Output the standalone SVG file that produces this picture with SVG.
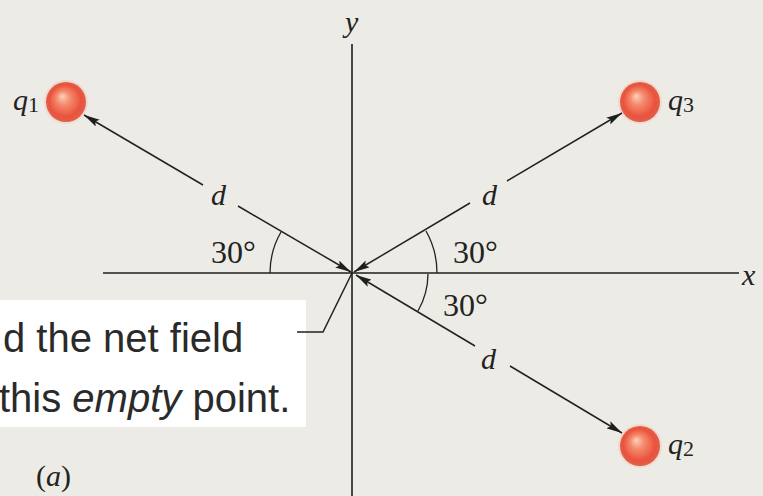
<svg xmlns="http://www.w3.org/2000/svg" width="763" height="496" viewBox="0 0 763 496">
<style>
.ax{stroke:#1e1e1e;stroke-width:1.6;fill:none}
.ln{stroke:#222;stroke-width:1.5;fill:none}
.arc{stroke:#222;stroke-width:1.3;fill:none}
.ser{font-family:"Liberation Serif","DejaVu Serif",serif;fill:#222}
.it{font-style:italic}
.call{font-family:"Liberation Sans",Arial,sans-serif;font-size:40px;fill:#2a2a2a}
</style>
<defs>
<marker id="ah" viewBox="0 0 16 8" refX="16" refY="4" markerWidth="16" markerHeight="8" markerUnits="userSpaceOnUse" orient="auto-start-reverse">
<path d="M0,0 L16,4 L0,8 L3,4 Z" fill="#1e1e1e"/>
</marker>
<radialGradient id="sph" cx="0.5" cy="0.5" r="0.5" fx="0.4" fy="0.35">
<stop offset="0" stop-color="#fbd2bd"/>
<stop offset="0.35" stop-color="#f58a6c"/>
<stop offset="0.8" stop-color="#e9523d"/>
<stop offset="1" stop-color="#e0604a"/>
</radialGradient>
</defs>
<rect width="763" height="496" fill="#ecebe5"/>

<g id="callout">
<rect x="0" y="300" width="306" height="127" fill="#ffffff"/>
<text class="call" x="3" y="352">d the net field</text>
<text class="call" x="-1" y="412">this <tspan font-style="italic">empty</tspan> point.</text>
</g>

<g id="axes">
<line class="ax" x1="103" y1="273" x2="739" y2="273"/>
<line class="ax" x1="352" y1="44" x2="352" y2="496"/>
<text class="ser it" x="742" y="285" font-size="30">x</text>
<text class="ser it" x="345" y="32" font-size="30">y</text>
</g>

<g id="q1">
<circle cx="66" cy="102" r="22" fill="#f6c9b8" opacity="0.5"/>
<circle cx="66" cy="102" r="20" fill="url(#sph)"/>
<text class="ser it" x="13" y="110" font-size="30">q<tspan font-style="normal" font-size="22" dy="2">1</tspan></text>
</g>
<g id="q3">
<circle cx="640" cy="102" r="22" fill="#f6c9b8" opacity="0.5"/>
<circle cx="640" cy="102" r="20" fill="url(#sph)"/>
<text class="ser it" x="668" y="110" font-size="30">q<tspan font-style="normal" font-size="22" dy="2">3</tspan></text>
</g>
<g id="q2">
<circle cx="640" cy="446" r="22" fill="#f6c9b8" opacity="0.5"/>
<circle cx="640" cy="446" r="20" fill="url(#sph)"/>
<text class="ser it" x="668" y="454" font-size="30">q<tspan font-style="normal" font-size="22" dy="2">2</tspan></text>
</g>

<g id="connectors">
<line class="ln" x1="351" y1="272" x2="238" y2="206" marker-start="url(#ah)"/>
<line class="ln" x1="203" y1="185" x2="84" y2="115" marker-end="url(#ah)"/>
<line class="ln" x1="354" y1="272" x2="470" y2="203" marker-start="url(#ah)"/>
<line class="ln" x1="507" y1="181" x2="622" y2="113" marker-end="url(#ah)"/>
<line class="ln" x1="356" y1="275" x2="475" y2="346" marker-start="url(#ah)"/>
<line class="ln" x1="510" y1="366" x2="622" y2="433" marker-end="url(#ah)"/>
<polyline class="ln" points="297,332 323,332 352,273"/>
<path class="arc" d="M270,273 A82,82 0 0 1 281,232"/>
<path class="arc" d="M437,273 A85,85 0 0 0 426,231"/>
<path class="arc" d="M428,274 A76,76 0 0 1 418,311"/>
</g>

<g id="labels">
<text class="ser it" x="211" y="205" font-size="30">d</text>
<text class="ser it" x="482" y="205" font-size="30">d</text>
<text class="ser it" x="481" y="369" font-size="30">d</text>
<text class="ser" x="211" y="263" font-size="32">30°</text>
<text class="ser" x="453" y="263" font-size="32">30°</text>
<text class="ser" x="443" y="316" font-size="32">30°</text>
<text class="ser" x="36" y="486" font-size="30">(<tspan font-style="italic">a</tspan>)</text>
</g>
</svg>
